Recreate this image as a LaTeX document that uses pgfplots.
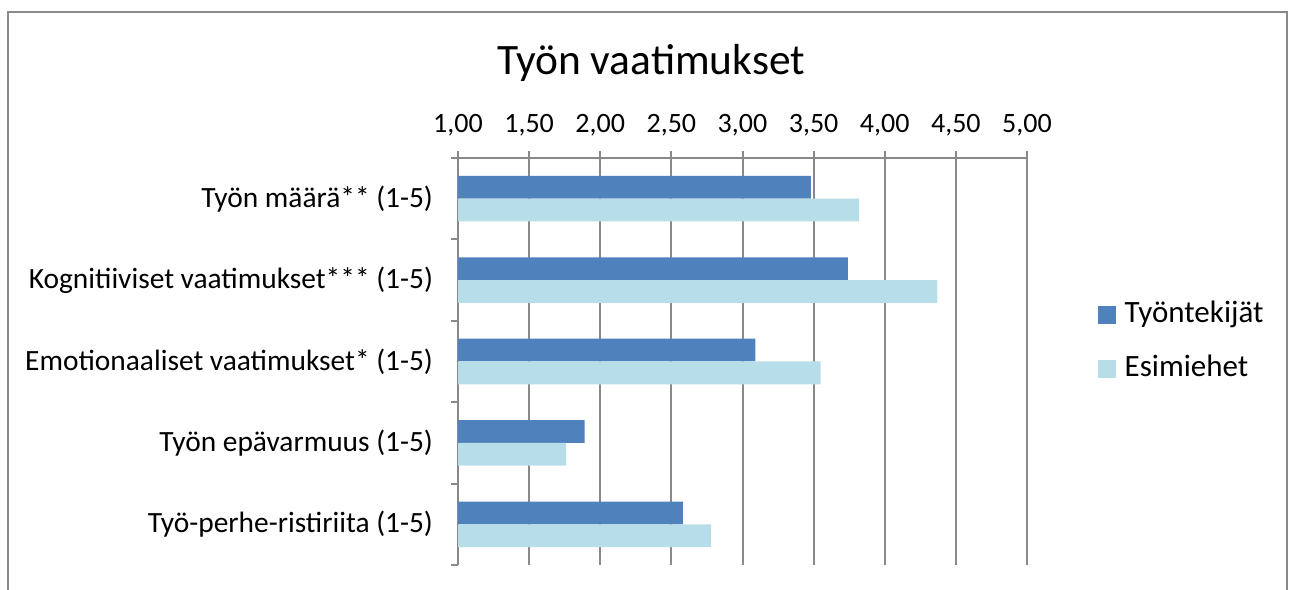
\documentclass[border=0pt]{standalone}
\usepackage{pgfplots}
\pgfplotsset{compat=1.18}
\usepackage{fontspec}
\setmainfont{Carlito}
\definecolor{dark}{HTML}{4F81BD}
\definecolor{light}{HTML}{B7DEE8}
\definecolor{gridc}{HTML}{898989}
\begin{document}
\begin{tikzpicture}
\path[use as bounding box] (0,0) rectangle (647pt,294.5pt);
\draw[gridc, line width=0.75pt] (4pt,-10pt) -- (4pt,288.5pt) -- (643.5pt,288.5pt) -- (643.5pt,-10pt);
\node[anchor=base, font=\fontsize{21.7}{26}\selectfont, inner sep=0pt] at (325.5pt,257pt) {Työn vaatimukset};
\begin{axis}[
  at={(229pt,12pt)}, anchor=south west,
  scale only axis, width=284.5pt, height=203.5pt,
  xbar, bar width=0.28,
  xmin=1, xmax=5, ymin=-0.5, ymax=4.5,
  axis x line*=top, axis y line*=left,
  axis line style={gridc, line width=1pt},
  xtick={1,1.5,...,5},
  xmajorgrids=true,
  grid style={gridc, line width=1pt},
  tick align=outside,
  major tick length=3.5pt,
  tick style={gridc, line width=1pt},
  /pgf/number format/.cd, fixed, fixed zerofill, precision=2, use comma, assume math mode=true,
  /pgfplots/.cd,
  x tick label style={font=\fontsize{14}{17}\selectfont, yshift=4pt},
  ytick={-0.5,0.5,...,4.5},
  yticklabels={},
  extra y ticks={0,1,2,3,4},
  extra y tick labels={Työ-perhe-ristiriita (1-5), Työn epävarmuus (1-5), Emotionaaliset vaatimukset* (1-5), Kognitiiviset vaatimukset*** (1-5), Työn määrä** (1-5)},
  extra y tick style={tick style={draw=none}, yticklabel style={anchor=east, xshift=-5.5pt}},
  y tick label style={font=\fontsize{14.7}{17}\selectfont},
  legend style={at={(1.113,0.548)}, anchor=west, draw=none, fill=none,
    font=\fontsize{15.5}{18}\selectfont, row sep=13pt,
    nodes={inner sep=0pt, text height=11pt, text depth=3pt},
    /tikz/every odd column/.append style={column sep=4.5pt}},
  legend cell align=left,
  legend image code/.code={\fill[#1] (0pt,-4.5pt) rectangle (9pt,4.5pt);},
]
\addplot[fill=dark, draw=none, bar shift=0.14] coordinates {(3.48,4) (3.74,3) (3.09,2) (1.89,1) (2.58,0)};
\addplot[fill=light, draw=none, bar shift=-0.14] coordinates {(3.82,4) (4.37,3) (3.55,2) (1.76,1) (2.78,0)};
\legend{Työntekijät, Esimiehet}
\end{axis}
\end{tikzpicture}
\end{document}
